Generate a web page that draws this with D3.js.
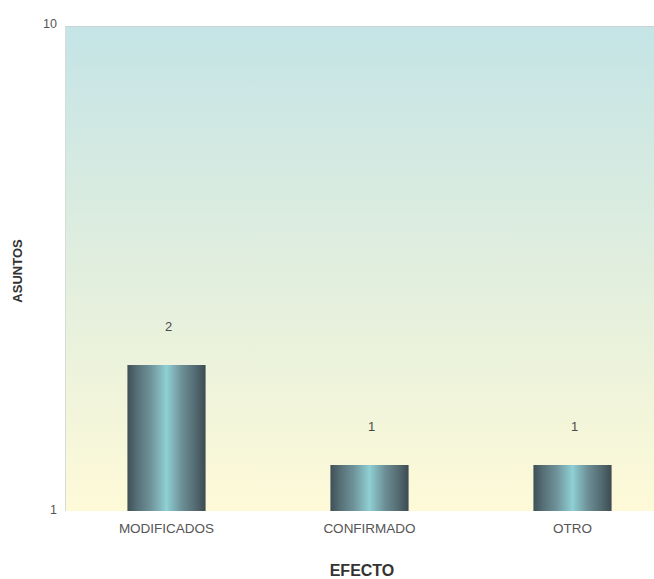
<!DOCTYPE html>
<html>
<head>
<meta charset="utf-8">
<script src="https://cdn.jsdelivr.net/npm/d3@7"></script>
<style>
  html, body { margin: 0; padding: 0; background: #fff; }
  svg { display: block; font-family: "Liberation Sans", Arial, sans-serif; }
</style>
</head>
<body>
<svg id="chart" width="654" height="579"></svg>
<script>
// Asuntos por efecto
const categories = ["MODIFICADOS", "CONFIRMADO", "OTRO"];
const values = [2, 1, 1];
const yTicks = [1, 10];

const svg = d3.select("#chart");
const W = 654, H = 579;
const plot = { left: 65, top: 26, right: 674, bottom: 511 };

const x = d3.scaleBand()
  .domain(categories)
  .range([plot.left, plot.right])
  .paddingInner(0.615)
  .paddingOuter(0.3075);

const y = d3.scaleLog()
  .domain([1, 10])
  .range([plot.bottom, plot.top]);

// bars sitting on the log floor keep a visible stub
const floorStub = 46;
const barTop = v => Math.min(y(v), y(1) - floorStub);

const defs = svg.append("defs");
const bg = defs.append("linearGradient").attr("id", "bg")
  .attr("x1", 0).attr("y1", 0).attr("x2", 0).attr("y2", 1);
bg.append("stop").attr("offset", "0%").attr("stop-color", "#c4e4e6");
bg.append("stop").attr("offset", "50%").attr("stop-color", "#e1eede");
bg.append("stop").attr("offset", "100%").attr("stop-color", "#fefad8");

const bar = defs.append("linearGradient").attr("id", "bar")
  .attr("x1", 0).attr("y1", 0).attr("x2", 1).attr("y2", 0);
[["0%", "#3f5057"], ["12%", "#566e75"], ["30%", "#6f939a"],
 ["50%", "#8fd0d4"], ["70%", "#6c8e95"], ["88%", "#52686f"], ["100%", "#3c4b51"]]
  .forEach(([o, c]) => bar.append("stop").attr("offset", o).attr("stop-color", c));

// plot background
svg.append("rect")
  .attr("x", plot.left).attr("y", plot.top)
  .attr("width", W - plot.left).attr("height", plot.bottom - plot.top)
  .attr("fill", "url(#bg)");
svg.append("line")
  .attr("x1", plot.left).attr("x2", W)
  .attr("y1", plot.top + 0.5).attr("y2", plot.top + 0.5)
  .attr("stroke", "#c8d4d4").attr("stroke-width", 1);
svg.append("line")
  .attr("x1", plot.left + 0.5).attr("x2", plot.left + 0.5)
  .attr("y1", plot.top).attr("y2", plot.bottom)
  .attr("stroke", "#d6dcd6").attr("stroke-width", 1);

// bars
svg.append("g").selectAll("rect")
  .data(categories.map((c, i) => ({ c, v: values[i] })))
  .join("rect")
  .attr("x", d => x(d.c))
  .attr("width", x.bandwidth())
  .attr("y", d => barTop(d.v))
  .attr("height", d => y(1) - barTop(d.v))
  .attr("fill", "url(#bar)");

// value labels
svg.append("g").selectAll("text")
  .data(categories.map((c, i) => ({ c, v: values[i] })))
  .join("text")
  .attr("x", d => x(d.c) + x.bandwidth() / 2 + 2)
  .attr("y", d => barTop(d.v) - 34)
  .attr("text-anchor", "middle")
  .attr("font-size", 13)
  .attr("fill", "#4a4a4a")
  .text(d => d.v);

// y axis tick labels
const yAxis = d3.axisLeft(y).tickValues(yTicks).tickFormat(d3.format("d")).tickSize(0).tickPadding(8);
const gy = svg.append("g").attr("transform", `translate(${plot.left},0)`).call(yAxis);
gy.select(".domain").remove();
gy.selectAll("text").attr("font-size", 12.5).attr("fill", "#555")
  .attr("font-family", "\"Liberation Sans\", Arial, sans-serif")
  .attr("dy", d => d === 10 ? "0.1em" : "0.2em");

// x axis labels
const xAxis = d3.axisBottom(x).tickSize(0).tickPadding(12);
const gx = svg.append("g").attr("transform", `translate(0,${plot.bottom})`).call(xAxis);
gx.select(".domain").remove();
gx.selectAll("text").attr("font-size", 13.5).attr("fill", "#555")
  .attr("font-family", "\"Liberation Sans\", Arial, sans-serif");

// axis titles
svg.append("text")
  .attr("x", 362).attr("y", 576)
  .attr("text-anchor", "middle")
  .attr("font-size", 16).attr("font-weight", "bold").attr("fill", "#333")
  .text("EFECTO");

svg.append("text")
  .attr("transform", "translate(22,271) rotate(-90)")
  .attr("text-anchor", "middle")
  .attr("font-size", 13).attr("font-weight", "bold").attr("fill", "#333")
  .text("ASUNTOS");
</script>
</body>
</html>
